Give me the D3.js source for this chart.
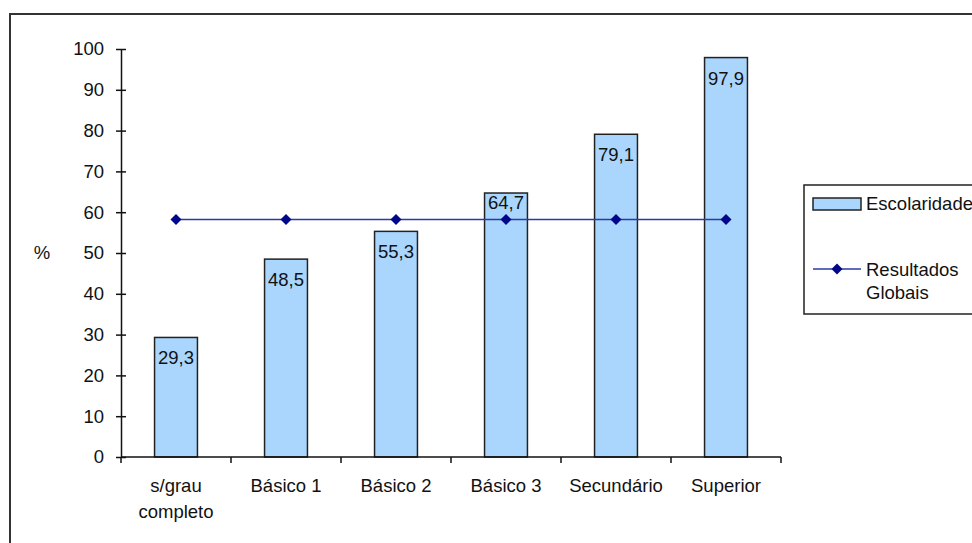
<!DOCTYPE html>
<html><head><meta charset="utf-8">
<script src="https://cdn.jsdelivr.net/npm/d3@7"></script>
<style>body{margin:0;background:#fff}svg{display:block}text{font-family:"Liberation Sans",Arial,sans-serif}</style>
</head><body>
<svg id="c" width="972" height="543"></svg>
<script>
const categories = [["s/grau","completo"],["Básico 1"],["Básico 2"],["Básico 3"],["Secundário"],["Superior"]];
const escolaridade = [29.3, 48.5, 55.3, 64.7, 79.1, 97.9];
const resultadosGlobais = [58.2, 58.2, 58.2, 58.2, 58.2, 58.2];
const yTicks = [0,10,20,30,40,50,60,70,80,90,100];
const legendLabels = [["Escolaridade"],["Resultados","Globais"]];

const svg = d3.select("#c");
const fs = 18.5;
const diamond = "M0,-5.5L5.5,0L0,5.5L-5.5,0Z";
// outer frame
svg.append("rect").attr("x",10).attr("y",14).attr("width",1000).attr("height",600)
  .attr("fill","none").attr("stroke","#333").attr("stroke-width",2);

const x = d3.scaleBand().domain(d3.range(categories.length)).range([121,781]);
const y = d3.scaleLinear().domain([0,100]).range([457,49]);
const g = svg.append("g");

// bars
const bw = x.bandwidth()*0.39;
g.selectAll("rect.bar").data(escolaridade).join("rect")
  .attr("x",(d,i)=>x(i)+x.bandwidth()/2-bw/2).attr("y",d=>y(d))
  .attr("width",bw).attr("height",d=>y(0)-y(d))
  .attr("fill","#aad6fd").attr("stroke","#222").attr("stroke-width",1.5);

// y axis
const ya = g.append("g").attr("transform","translate(121,0)")
  .call(d3.axisLeft(y).tickValues(yTicks).tickSize(5).tickSizeOuter(0).tickPadding(12));
ya.selectAll(".tick line").attr("x1",-5).attr("x2",5).attr("stroke","#111").attr("stroke-width",1.5);
ya.select(".domain").attr("stroke","#111").attr("stroke-width",1.5);
ya.selectAll("text").attr("font-size",fs).attr("fill","#111").style("font-family","Liberation Sans, Arial");

// x axis
const xa = g.append("g").attr("transform","translate(0,457)");
xa.append("line").attr("x1",121).attr("x2",781).attr("stroke","#111").attr("stroke-width",1.5);
xa.selectAll("line.t").data(d3.range(categories.length+1)).join("line")
  .attr("x1",i=>121+i*x.step()).attr("x2",i=>121+i*x.step()).attr("y1",0).attr("y2",6)
  .attr("stroke","#111").attr("stroke-width",1.5);
const xl = xa.selectAll("text.cat").data(categories).join("text")
  .attr("x",(d,i)=>x(i)+x.bandwidth()/2).attr("y",35).attr("text-anchor","middle")
  .attr("font-size",fs).attr("fill","#111");
xl.each(function(d){ const t=d3.select(this);
  d.forEach((s,k)=>t.append("tspan").attr("x",t.attr("x")).attr("dy",k?26:0).text(s)); });

// line series
const cx = i=>x(i)+x.bandwidth()/2;
g.append("path").datum(resultadosGlobais)
  .attr("d",d3.line().x((d,i)=>cx(i)).y(d=>y(d)))
  .attr("fill","none").attr("stroke","#2a3aa8").attr("stroke-width",1.5);
g.selectAll("path.m").data(resultadosGlobais).join("path")
  .attr("d",diamond)
  .attr("transform",(d,i)=>`translate(${cx(i)},${y(d)})`).attr("fill","#00078a");

// value labels
const lineY = y(resultadosGlobais[0]);
g.selectAll("text.val").data(escolaridade).join("text")
  .attr("x",(d,i)=>cx(i)).attr("text-anchor","middle").attr("font-size",fs).attr("fill","#111")
  .attr("y",d=>{let yy=y(d)+27; if(Math.abs(yy-6-lineY)<14) yy=y(d)+16; return yy;})
  .text(d=>String(d).replace(".",","));

// % label
svg.append("text").attr("x",42).attr("y",259).attr("text-anchor","middle").attr("font-size",fs).attr("fill","#111").text("%");

// legend
const lg = svg.append("g");
lg.append("rect").attr("x",804).attr("y",185).attr("width",200).attr("height",129)
  .attr("fill","#fff").attr("stroke","#222").attr("stroke-width",1.5);
lg.append("rect").attr("x",813).attr("y",198).attr("width",48).attr("height",12)
  .attr("fill","#aad6fd").attr("stroke","#222").attr("stroke-width",1.5);
lg.append("text").attr("x",866).attr("y",210).attr("font-size",fs).attr("fill","#111").text(legendLabels[0][0]);
lg.append("line").attr("x1",813).attr("x2",861).attr("y1",269).attr("y2",269).attr("stroke","#2a3aa8").attr("stroke-width",1.5);
lg.append("path").attr("d",diamond).attr("transform","translate(837,269)").attr("fill","#00078a");
const t2 = lg.append("text").attr("font-size",fs).attr("fill","#111");
legendLabels[1].forEach((s,k)=>t2.append("tspan").attr("x",866).attr("y",276+k*23).text(s));
</script>
</body></html>
